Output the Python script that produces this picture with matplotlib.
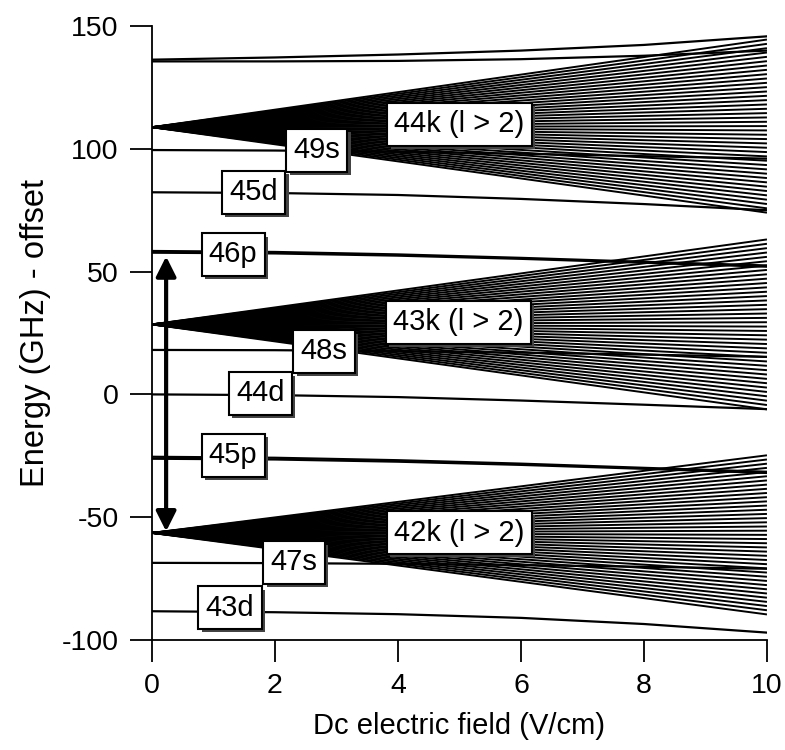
import numpy as np
import matplotlib
matplotlib.use('Agg')
import matplotlib.pyplot as plt
import matplotlib.patheffects as pe

plt.rcParams['font.family'] = ['Liberation Sans', 'DejaVu Sans']
plt.rcParams['axes.unicode_minus'] = False

field_pts = [0, 2, 4, 6, 8, 10]

# Low-l states (GHz - offset) read at the field points above
low_l_states = {
    '47p_a': [136.3, 137.2, 138.4, 140.0, 142.3, 145.8],
    '47p_b': [135.6, 135.6, 135.8, 136.5, 137.9, 140.0],
    '49s':   [99.5, 99.3, 98.8, 98.0, 97.0, 96.0],
    '45d':   [82.3, 82.0, 81.2, 79.6, 77.5, 75.0],
    '46p_a': [58.4, 58.0, 57.0, 55.6, 54.0, 52.5],
    '46p_b': [57.7, 57.4, 56.5, 55.2, 53.6, 52.0],
    '48s':   [18.1, 18.0, 17.6, 17.0, 16.2, 15.3],
    '44d':   [0.0, -0.3, -1.1, -2.5, -4.2, -6.0],
    '45p_a': [-25.4, -25.8, -26.8, -28.2, -29.9, -31.5],
    '45p_b': [-26.2, -26.5, -27.4, -28.7, -30.3, -32.0],
    '47s':   [-68.6, -68.7, -69.0, -69.5, -70.2, -71.0],
    '43d':   [-88.3, -88.7, -89.5, -91.0, -93.5, -97.0],
}

# Hydrogenic manifolds (l > 2): n, zero-field energy, top / bottom energy at 10 V/cm
manifold_n = [44, 43, 42]
manifold_e0 = [108.8, 28.5, -56.4]
manifold_top = [144.5, 63.1, -24.8]
manifold_bottom = [74.0, -6.1, -89.6]
field_max = 10

# Labels: text, field, energy
label_text = ['44k (l > 2)', '49s', '45d', '46p', '43k (l > 2)', '48s', '44d',
              '45p', '42k (l > 2)', '47s', '43d']
label_field = [5.0, 2.68, 1.65, 1.32, 4.98, 2.8, 1.76, 1.32, 5.0, 2.31, 1.27]
label_energy = [110.0, 99.4, 82.3, 57.0, 29.3, 17.5, 0.4, -24.8, -56.3, -68.4, -86.8]

fig = plt.figure(figsize=(7.85, 7.5), dpi=100)
ax = fig.add_axes([0.1936, 0.1467, 0.7834, 0.8186])

# Stark manifolds: one straight line per state from the zero-field point
for n, e0, top, bot in zip(manifold_n, manifold_e0, manifold_top, manifold_bottom):
    ends = np.linspace(bot, top, n - 3)
    for e1 in ends:
        ax.plot([0, field_max], [e0, e1], color='black', lw=1.4, solid_capstyle='butt')

# low-l states
for name, vals in low_l_states.items():
    ax.plot(field_pts, vals, color='black', lw=1.6)

# double arrow between the 42 and 46p levels
ax.annotate('', xy=(0.23, 56.2), xytext=(0.23, -55.8),
            arrowprops=dict(arrowstyle='<|-|>', color='black', lw=3,
                            mutation_scale=30, shrinkA=0, shrinkB=0),
            zorder=5)

# boxed labels with drop shadow
for txt, f, e in zip(label_text, label_field, label_energy):
    t = ax.text(f, e, txt, ha='center', va='center', fontsize=21, zorder=7,
                bbox=dict(boxstyle='square,pad=0.25', fc='white', ec='black', lw=1.5))
    t.get_bbox_patch().set_path_effects([
        pe.SimplePatchShadow(offset=(2.5, -2.5), shadow_rgbFace='#444444', alpha=1.0),
        pe.Normal()])

ax.set_xlim(0, 10)
ax.set_ylim(-100, 150)
ax.set_xticks([0, 2, 4, 6, 8, 10])
ax.set_yticks([-100, -50, 0, 50, 100, 150])
ax.spines['top'].set_visible(False)
ax.spines['right'].set_visible(False)
ax.spines['left'].set_linewidth(1.3)
ax.spines['bottom'].set_linewidth(1.3)
ax.tick_params(direction='out', length=16, width=1.3, labelsize=20.5, pad=8)
ax.set_xlabel('Dc electric field (V/cm)', fontsize=21, labelpad=9)
ax.set_ylabel('Energy (GHz) - offset', fontsize=23.5, labelpad=8)

fig.savefig('out.png', dpi=100)
